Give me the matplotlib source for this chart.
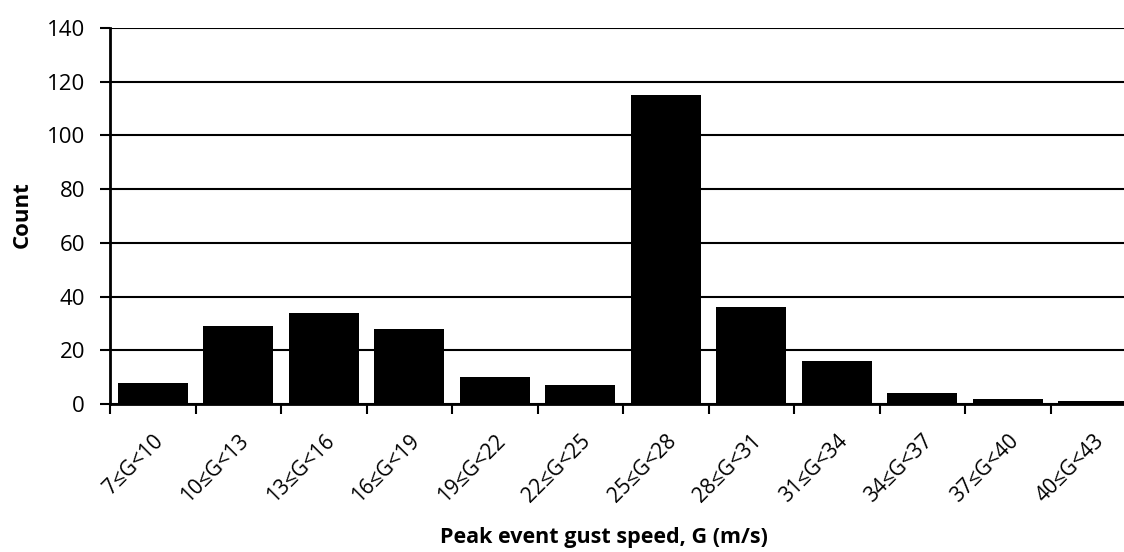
import matplotlib
matplotlib.use("Agg")
import matplotlib.pyplot as plt
import numpy as np

plt.rcParams['font.family'] = ['Open Sans', 'DejaVu Sans']

categories = ["7≤G<10", "10≤G<13", "13≤G<16", "16≤G<19", "19≤G<22", "22≤G<25",
              "25≤G<28", "28≤G<31", "31≤G<34", "34≤G<37", "37≤G<40", "40≤G<43"]
counts = [8, 29, 34, 28, 10, 7, 115, 36, 16, 4, 2, 1]

fig = plt.figure(figsize=(11.24, 5.52), dpi=100)
ax = fig.add_axes([110 / 1124, 148 / 552, 1026 / 1124, 376 / 552])

x = np.arange(len(categories))
ax.bar(x, counts, width=0.82, color="black", zorder=3)

ax.set_xlim(-0.5, len(categories) - 0.5)
ax.set_ylim(0, 140)
ax.set_yticks(np.arange(0, 141, 20))
ax.yaxis.grid(True, color="black", lw=1.5, zorder=0)

# labels at bar centres, tick marks at the category boundaries
ax.set_xticks(x)
ax.set_xticklabels(categories, rotation=45, ha="right", rotation_mode="anchor", fontsize=15)
ax.set_xticks(np.arange(-0.5, len(categories)), minor=True)
ax.tick_params(axis="x", which="major", length=0, pad=19)
ax.tick_params(axis="x", which="minor", length=7, width=1.5, direction="out")
ax.tick_params(axis="y", length=7, width=1.5, direction="out", labelsize=16, pad=11)

for s in ["top", "right"]:
    ax.spines[s].set_visible(False)
ax.spines["left"].set_linewidth(2)
ax.spines["bottom"].set_linewidth(2)

fig.text(22 / 1124, 1 - 215 / 552, "Count", fontsize=16, fontweight="bold",
         rotation=90, ha="center", va="center")
fig.text(604 / 1124, 1 - 538 / 552, "Peak event gust speed, G (m/s)", fontsize=15.5,
         fontweight="bold", ha="center", va="center")

fig.savefig("out.png", dpi=100)
